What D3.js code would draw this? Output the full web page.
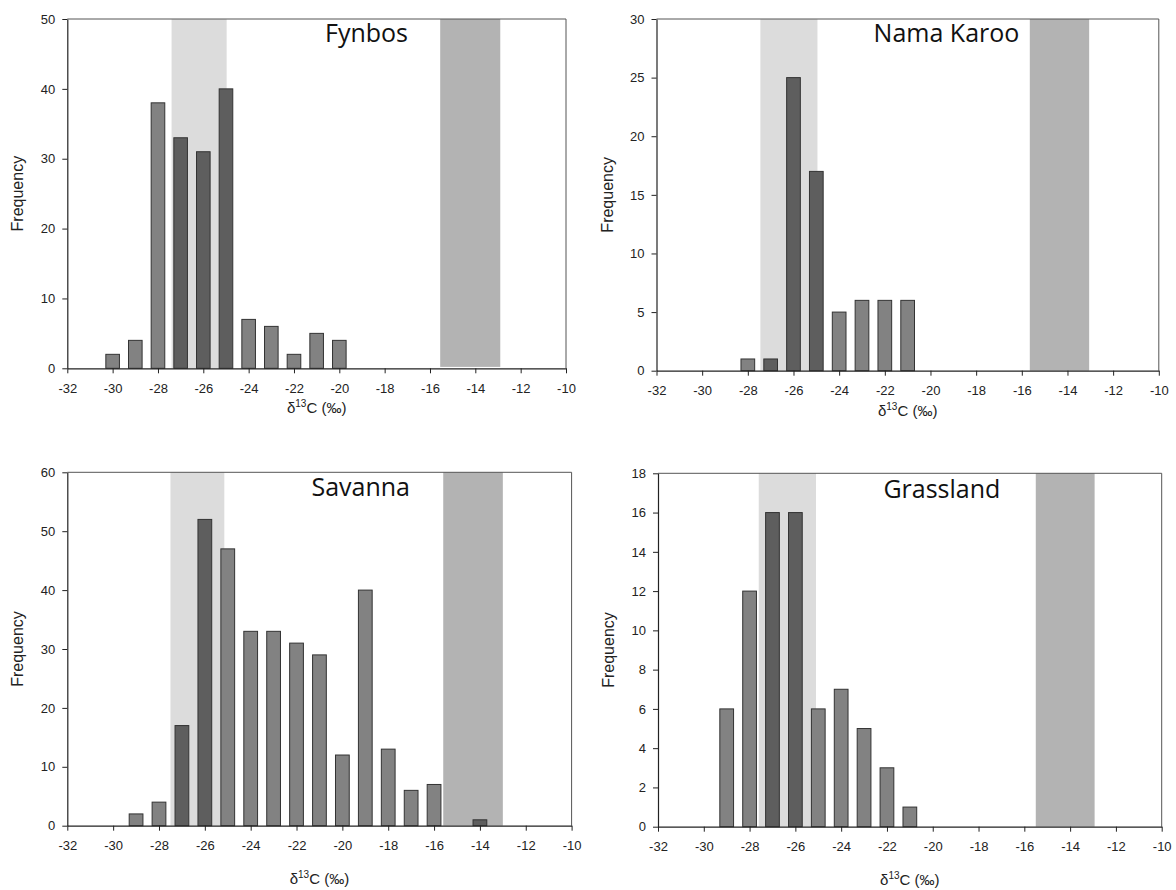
<!DOCTYPE html>
<html>
<head>
<meta charset="utf-8">
<script src="https://cdn.jsdelivr.net/npm/d3@7"></script>
<style>
  body { margin: 0; background: #fff; }
  text { font-family: "Liberation Sans", Arial, sans-serif; }
  .title { font-family: "Open Sans", "Noto Sans", sans-serif; }
</style>
</head>
<body>
<svg id="chart" width="1176" height="890"></svg>
<script>
// δ13C bin centres (‰) and sample counts for each biome
const fynbosBins    = [-30, -29, -28, -27, -26, -25, -24, -23, -22, -21, -20];
const fynbosCounts  = [2, 4, 38, 33, 31, 40, 7, 6, 2, 5, 4];

const namaBins      = [-28, -27, -26, -25, -24, -23, -22, -21];
const namaCounts    = [1, 1, 25, 17, 5, 6, 6, 6];

const savannaBins   = [-29, -28, -27, -26, -25, -24, -23, -22, -21, -20, -19, -18, -17, -16, -14];
const savannaCounts = [2, 4, 17, 52, 47, 33, 33, 31, 29, 12, 40, 13, 6, 7, 1];

const grassBins     = [-29, -28, -27, -26, -25, -24, -23, -22, -21];
const grassCounts   = [6, 12, 16, 16, 6, 7, 5, 3, 1];

// Axis ticks
const xTicks        = [-32, -30, -28, -26, -24, -22, -20, -18, -16, -14, -12, -10];
const fynbosYTicks  = [0, 10, 20, 30, 40, 50];
const namaYTicks    = [0, 5, 10, 15, 20, 25, 30];
const savannaYTicks = [0, 10, 20, 30, 40, 50, 60];
const grassYTicks   = [0, 2, 4, 6, 8, 10, 12, 14, 16, 18];

// Shaded reference ranges of δ13C (C3 light, C4 dark) per panel
const c3Ranges = [[-27.4, -24.97], [-27.45, -24.95], [-27.5, -25.15], [-27.6, -25.1]];
const c4Ranges = [[-15.55, -12.9], [-15.65, -13.05], [-15.6, -13.0], [-15.5, -12.93]];
const c4Floors = [0.2, 0, 0, 0];

const titles = ["Fynbos", "Nama Karoo", "Savanna", "Grassland"];
const titleAt = [-18.8, -19.3, -19.2, -19.6];

const panels = [
  { bins: fynbosBins,  counts: fynbosCounts,  yTicks: fynbosYTicks,  box: { l: 67.3,  r: 566.0,  t: 19.0,  b: 368.3 }, tdy: 23 },
  { bins: namaBins,    counts: namaCounts,    yTicks: namaYTicks,    box: { l: 656.5, r: 1158.8, t: 19.0,  b: 370.7 }, tdy: 23 },
  { bins: savannaBins, counts: savannaCounts, yTicks: savannaYTicks, box: { l: 67.3,  r: 571.6,  t: 472.3, b: 825.7 }, tdy: 23.5 },
  { bins: grassBins,   counts: grassCounts,   yTicks: grassYTicks,   box: { l: 658.0, r: 1161.7, t: 473.3, b: 826.7 }, tdy: 25 }
];

const svg = d3.select("#chart");
svg.append("rect").attr("width", 1176).attr("height", 890).attr("fill", "#fff");

const barHalf = 0.3;

panels.forEach((p, i) => {
  const { l, r, t, b } = p.box;
  const x = d3.scaleLinear().domain([-32, -10]).range([l, r]);
  const y = d3.scaleLinear().domain([0, d3.max(p.yTicks)]).range([b, t]);
  const g = svg.append("g");

  const c3 = c3Ranges[i], c4 = c4Ranges[i];

  // reference bands
  g.append("rect")
    .attr("x", x(c3[0])).attr("y", t)
    .attr("width", x(c3[1]) - x(c3[0])).attr("height", b - t)
    .attr("fill", "#dcdcdc");
  g.append("rect")
    .attr("x", x(c4[0])).attr("y", t)
    .attr("width", x(c4[1]) - x(c4[0])).attr("height", y(c4Floors[i]) - t)
    .attr("fill", "#b3b3b3");

  // histogram bars; bins inside a reference band are drawn darker
  const inBand = v => (v >= c3[0] && v <= c3[1]) || (v >= c4[0] && v <= c4[1]);
  const data = p.bins.map((v, k) => ({ v, n: p.counts[k] }));
  g.selectAll("rect.bar").data(data).join("rect")
    .attr("class", "bar")
    .attr("x", d => x(d.v - barHalf))
    .attr("width", d => x(d.v + barHalf) - x(d.v - barHalf))
    .attr("y", d => y(d.n))
    .attr("height", d => y(0) - y(d.n))
    .attr("fill", d => inBand(d.v) ? "#5e5e5e" : "#828282")
    .attr("stroke", "#333")
    .attr("stroke-width", 1);

  // frame (top and right)
  g.append("path")
    .attr("d", `M${l},${t}H${r}V${b}`)
    .attr("fill", "none").attr("stroke", "#555").attr("stroke-width", 1);

  // axes
  const xa = g.append("g").attr("transform", `translate(0,${b})`)
    .call(d3.axisBottom(x).tickValues(xTicks).tickFormat(d => String(d))
      .tickSize(5).tickSizeOuter(0).tickPadding(10));
  const ya = g.append("g").attr("transform", `translate(${l},0)`)
    .call(d3.axisLeft(y).tickValues(p.yTicks).tickFormat(d => String(d))
      .tickSize(5).tickSizeOuter(0).tickPadding(7));
  [xa, ya].forEach(a => {
    a.select(".domain").attr("stroke", "#222").attr("stroke-width", 1.2);
    a.selectAll(".tick line").attr("stroke", "#222");
    a.selectAll(".tick text").attr("fill", "#222")
      .style("font-family", '"Liberation Sans", Arial, sans-serif').style("font-size", "13px");
  });

  // panel title
  g.append("text").attr("class", "title")
    .attr("x", x(titleAt[i])).attr("y", t + p.tdy)
    .attr("text-anchor", "middle")
    .attr("fill", "#111").style("font-size", "25px")
    .text(titles[i]);

  // axis titles
  g.append("text")
    .attr("transform", `translate(${l - 44},${(t + b) / 2}) rotate(-90)`)
    .attr("text-anchor", "middle").attr("fill", "#222").style("font-size", "16px")
    .text("Frequency");

  const xl = g.append("text")
    .attr("x", (l + r) / 2).attr("y", b + (i < 2 ? 45 : 58))
    .attr("text-anchor", "middle").attr("fill", "#222").style("font-size", "15px");
  xl.append("tspan").text("δ");
  xl.append("tspan").attr("dy", -6).style("font-size", "10px").text("13");
  xl.append("tspan").attr("dy", 6).text("C (‰)");
});
</script>
</body>
</html>
